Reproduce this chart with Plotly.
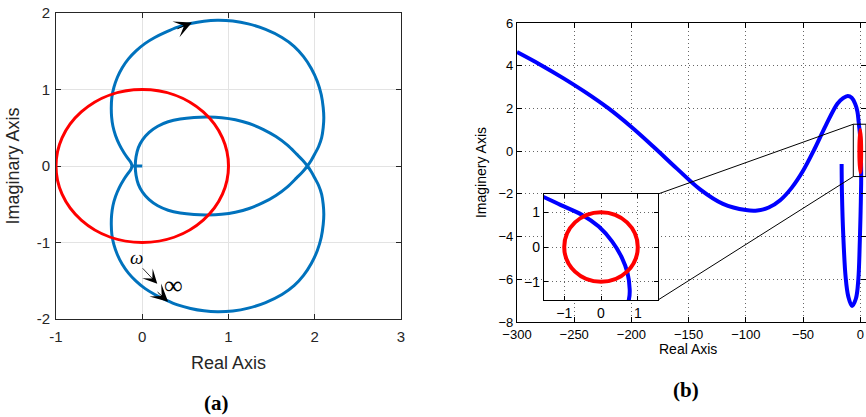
import plotly.graph_objects as go

# ---------------- data ----------------
# (a) Nyquist locus, stored piece by piece (real part, imaginary part)
# outer loop, upper half: from the origin region up and round to the crossing at (1.915, 0)
OUT_UP_RE = [-0.12, -0.13, -0.16, -0.21, -0.265, -0.31, -0.340, -0.355, -0.359, -0.352, -0.328, -0.288,
             -0.232, -0.160, -0.072, 0.030, 0.145, 0.272, 0.410, 0.560, 0.715, 0.870, 1.050, 1.230,
             1.430, 1.620, 1.760, 1.870, 1.960, 2.030, 2.075, 2.098, 2.105, 2.098, 2.080, 2.045,
             2.000, 1.960, 1.915]
OUT_UP_IM = [0.0, 0.04, 0.09, 0.17, 0.28, 0.40, 0.52, 0.64, 0.766, 0.90, 1.03, 1.16,
             1.285, 1.40, 1.505, 1.600, 1.680, 1.750, 1.815, 1.862, 1.893, 1.905, 1.895, 1.858,
             1.785, 1.680, 1.565, 1.430, 1.275, 1.105, 0.935, 0.765, 0.630, 0.500, 0.370, 0.255,
             0.157, 0.075, 0.0]
# inner loop, lower half: crossing -> leftmost point (-0.081, 0)
IN_LO_RE = [1.860, 1.790, 1.680, 1.550, 1.400, 1.240, 1.080, 0.920, 0.760, 0.600, 0.440, 0.300,
            0.180, 0.080, 0.005, -0.045, -0.072, -0.081]
IN_LO_IM = [-0.075, -0.155, -0.275, -0.385, -0.480, -0.555, -0.605, -0.632, -0.640, -0.635, -0.615, -0.578,
            -0.520, -0.440, -0.345, -0.240, -0.120, 0.0]
# inner loop, upper half: leftmost point -> crossing
IN_UP_RE = [-0.072, -0.045, 0.005, 0.080, 0.180, 0.300, 0.440, 0.600, 0.760, 0.920, 1.080, 1.240,
            1.400, 1.550, 1.680, 1.790, 1.860, 1.915]
IN_UP_IM = [0.120, 0.240, 0.345, 0.440, 0.520, 0.578, 0.615, 0.635, 0.640, 0.632, 0.605, 0.555,
            0.480, 0.385, 0.275, 0.155, 0.075, 0.0]
# outer loop, lower half: crossing -> round the bottom -> back to the origin region
OUT_LO_RE = [1.960, 2.000, 2.045, 2.080, 2.098, 2.105, 2.098, 2.075, 2.030, 1.960, 1.870, 1.760,
             1.620, 1.430, 1.230, 1.050, 0.870, 0.715, 0.560, 0.410, 0.272, 0.145, 0.030, -0.072,
             -0.160, -0.232, -0.288, -0.328, -0.352, -0.359, -0.355, -0.340, -0.31, -0.265, -0.21,
             -0.16, -0.13, -0.12]
OUT_LO_IM = [-0.075, -0.157, -0.255, -0.370, -0.500, -0.630, -0.765, -0.935, -1.105, -1.275, -1.430, -1.565,
             -1.680, -1.785, -1.858, -1.895, -1.905, -1.893, -1.862, -1.815, -1.750, -1.680, -1.600, -1.505,
             -1.40, -1.285, -1.16, -1.03, -0.90, -0.766, -0.64, -0.52, -0.40, -0.28, -0.17,
             -0.09, -0.04, 0.0]
# short segment into the origin
A_STUB_RE = [-0.12, 0.0]
A_STUB_IM = [0.0, 0.0]

A_RE = OUT_UP_RE + IN_LO_RE + IN_UP_RE + OUT_LO_RE
A_IM = OUT_UP_IM + IN_LO_IM + IN_UP_IM + OUT_LO_IM

# (b) Nyquist locus
B_RE = [-300, -280, -260, -240, -220, -200, -180, -160, -140, -120, -100, -90, -80, -70, -60,
        -50, -40, -30, -20, -15, -11, -7.5, -4.5, -2.5, -1.53, -1.09, -0.51, -0.06, 0.30, 0.57,
        0.72, 0.78, 0.76, 0.30, -0.40, -1.70, -3.80, -7.20, -10.5, -12.8, -14.9, -16.0, -16.3]
B_IM = [4.64, 4.06, 3.43, 2.75, 2.00, 1.13, 0.17, -0.83, -1.79, -2.47, -2.76, -2.78, -2.64, -2.30, -1.72,
        -0.92, 0.10, 1.22, 2.22, 2.48, 2.58, 2.50, 2.22, 1.85, 1.42, 1.20, 0.92, 0.585, 0.16, -0.31,
        -0.74, -1.21, -1.50, -2.80, -4.20, -6.00, -6.90, -7.25, -6.80, -5.90, -3.90, -2.00, -0.60]

# unit circle (centre, radius)
CIRCLE_C = (0.0, 0.0)
CIRCLE_R = 1.0

# zoom window drawn in (b) (real and imaginary limits)
ZOOM_RE = [-6.1, 5.0]
ZOOM_IM = [-1.19, 1.26]

# axis ticks
A_XTICKS = [-1, 0, 1, 2, 3]
A_YTICKS = [-2, -1, 0, 1, 2]
B_XTICKS = [-300, -250, -200, -150, -100, -50, 0]
B_YTICKS = [-8, -6, -4, -2, 0, 2, 4, 6]
INSET_TICKS = [-1, 0, 1]

# ---------------- layout geometry ----------------
W, H = 866, 417
XD1 = [56 / W, 401 / W]
YD1 = [1 - 319 / H, 1 - 13 / H]
XD2 = [517 / W, 1.0]
YD2 = [1 - 322 / H, 1 - 23 / H]
XD3 = [544 / W, 658 / W]
YD3 = [1 - 300 / H, 1 - 194 / H]
XR2 = [-300, 5]
YR2 = [-8, 6]

BLUE_A = "#0072BD"
BLUE_B = "#0000FF"
RED = "#FF0000"
DARK = "#262626"
SANS = "Liberation Sans, Arial, sans-serif"
SERIF = "Liberation Serif, Times New Roman, serif"

fig = go.Figure()

# (a)
fig.add_trace(go.Scatter(x=A_RE, y=A_IM, mode="lines", xaxis="x", yaxis="y",
                         line=dict(color=BLUE_A, width=3, shape="spline", smoothing=1.0, simplify=False),
                         showlegend=False, hoverinfo="skip"))
fig.add_trace(go.Scatter(x=A_STUB_RE, y=A_STUB_IM, mode="lines", xaxis="x", yaxis="y",
                         line=dict(color=BLUE_A, width=3), showlegend=False, hoverinfo="skip"))
# (b) main and inset
fig.add_trace(go.Scatter(x=B_RE, y=B_IM, mode="lines", xaxis="x2", yaxis="y2",
                         line=dict(color=BLUE_B, width=4, shape="spline", smoothing=1.0, simplify=False),
                         showlegend=False, hoverinfo="skip"))
fig.add_trace(go.Scatter(x=B_RE, y=B_IM, mode="lines", xaxis="x3", yaxis="y3",
                         line=dict(color=BLUE_B, width=4, shape="spline", smoothing=1.0, simplify=False),
                         showlegend=False, hoverinfo="skip"))


def unit_circle(xr, yr, width):
    cx, cy = CIRCLE_C
    return dict(type="circle", xref=xr, yref=yr, x0=cx - CIRCLE_R, x1=cx + CIRCLE_R,
                y0=cy - CIRCLE_R, y1=cy + CIRCLE_R, line=dict(color=RED, width=width),
                layer="above")


def to_paper_x(v):
    return XD2[0] + (v - XR2[0]) / (XR2[1] - XR2[0]) * (XD2[1] - XD2[0])


def to_paper_y(v):
    return YD2[0] + (v - YR2[0]) / (YR2[1] - YR2[0]) * (YD2[1] - YD2[0])


shapes = [
    unit_circle("x", "y", 3),
    unit_circle("x2", "y2", 3.5),
    unit_circle("x3", "y3", 4),
    dict(type="rect", xref="x2", yref="y2", x0=ZOOM_RE[0], x1=ZOOM_RE[1], y0=ZOOM_IM[0], y1=ZOOM_IM[1],
         line=dict(color="black", width=1)),
    dict(type="line", xref="paper", yref="paper", x0=XD3[1], y0=YD3[1],
         x1=to_paper_x(ZOOM_RE[0]), y1=to_paper_y(ZOOM_IM[1]), line=dict(color="black", width=1)),
    dict(type="line", xref="paper", yref="paper", x0=XD3[1], y0=YD3[0],
         x1=to_paper_x(ZOOM_RE[0]), y1=to_paper_y(ZOOM_IM[0]), line=dict(color="black", width=1)),
]

annotations = [
    # direction arrows on the locus of (a)
    dict(x=0.576, y=1.877, xref="x", yref="y", ax=-16, ay=7, text="", showarrow=True,
         arrowhead=3, arrowsize=2.9, arrowwidth=1, arrowcolor="black", standoff=0),
    dict(x=0.30, y=-1.775, xref="x", yref="y", ax=-12, ay=-11, text="", showarrow=True,
         arrowhead=3, arrowsize=2.9, arrowwidth=1, arrowcolor="black", standoff=0),
    # omega -> infinity
    dict(x=0.174, y=-1.54, xref="x", yref="y", ax=-16, ay=-17, text="", showarrow=True,
         arrowhead=3, arrowsize=3.0, arrowwidth=0.8, arrowcolor="black", standoff=0),
    dict(x=-0.064, y=-1.19, xref="x", yref="y", text="<i>ω</i>", showarrow=False,
         xanchor="center", yanchor="middle", font=dict(family=SERIF, size=19, color="black")),
    dict(x=0.36, y=-1.565, xref="x", yref="y", text="∞", showarrow=False,
         xanchor="center", yanchor="middle", font=dict(family=SERIF, size=26, color="black")),
    # x title of (b)
    dict(x=688 / W, y=1 - 349 / H, xref="paper", yref="paper", text="Real Axis", showarrow=False,
         xanchor="center", yanchor="middle", font=dict(family=SANS, size=14, color="black")),
    # panel labels
    dict(x=216 / W, y=1 - 403 / H, xref="paper", yref="paper", text="<b>(a)</b>", showarrow=False,
         xanchor="center", yanchor="middle", font=dict(family=SERIF, size=21, color="black")),
    dict(x=686 / W, y=1 - 390 / H, xref="paper", yref="paper", text="<b>(b)</b>", showarrow=False,
         xanchor="center", yanchor="middle", font=dict(family=SERIF, size=21, color="black")),
]

common_a = dict(showline=True, linecolor=DARK, linewidth=1, mirror="ticks", ticks="inside", ticklen=5,
                tickcolor=DARK, showgrid=True, gridcolor="#e3e3e3", gridwidth=1, zeroline=False,
                tickfont=dict(family=SANS, size=15, color=DARK), automargin=False)
common_b = dict(showline=True, linecolor="black", linewidth=1.3, mirror="ticks", ticks="inside", ticklen=5,
                tickcolor="black", showgrid=True, gridcolor="#666666", gridwidth=1, griddash="1px,3px",
                zeroline=False, tickfont=dict(family=SANS, size=13, color="black"), automargin=False)

fig.update_layout(
    width=W, height=H, margin=dict(l=0, r=0, t=0, b=0),
    paper_bgcolor="white", plot_bgcolor="white", showlegend=False,
    shapes=shapes, annotations=annotations,
    xaxis=dict(domain=XD1, range=[-1, 3], tickvals=A_XTICKS, ticktext=[str(v) for v in A_XTICKS],
               ticklabelstandoff=4,
               title=dict(text="Real Axis", font=dict(family=SANS, size=18, color=DARK), standoff=12),
               anchor="y", **common_a),
    yaxis=dict(domain=YD1, range=[-2, 2], tickvals=A_YTICKS, ticktext=[str(v) for v in A_YTICKS],
               ticklabelstandoff=2,
               title=dict(text="Imaginary Axis", font=dict(family=SANS, size=18, color=DARK), standoff=12),
               anchor="x", **common_a),
    xaxis2=dict(domain=XD2, range=XR2, tickvals=B_XTICKS, anchor="y2", **common_b),
    yaxis2=dict(domain=YD2, range=YR2, tickvals=B_YTICKS,
                title=dict(text="Imaginery Axis", font=dict(family=SANS, size=14, color="black"), standoff=8),
                anchor="x2", **common_b),
    xaxis3=dict(domain=XD3, range=[-1.55, 1.55], tickvals=INSET_TICKS, anchor="y3", **common_b),
    yaxis3=dict(domain=YD3, range=[-1.52, 1.52], tickvals=INSET_TICKS, anchor="x3", **common_b),
)
fig.update_xaxes(ticklen=4, tickfont_size=14, selector=dict(anchor="y3"))
fig.update_yaxes(ticklen=4, tickfont_size=14, selector=dict(anchor="x3"))

fig.write_html("out.html")
